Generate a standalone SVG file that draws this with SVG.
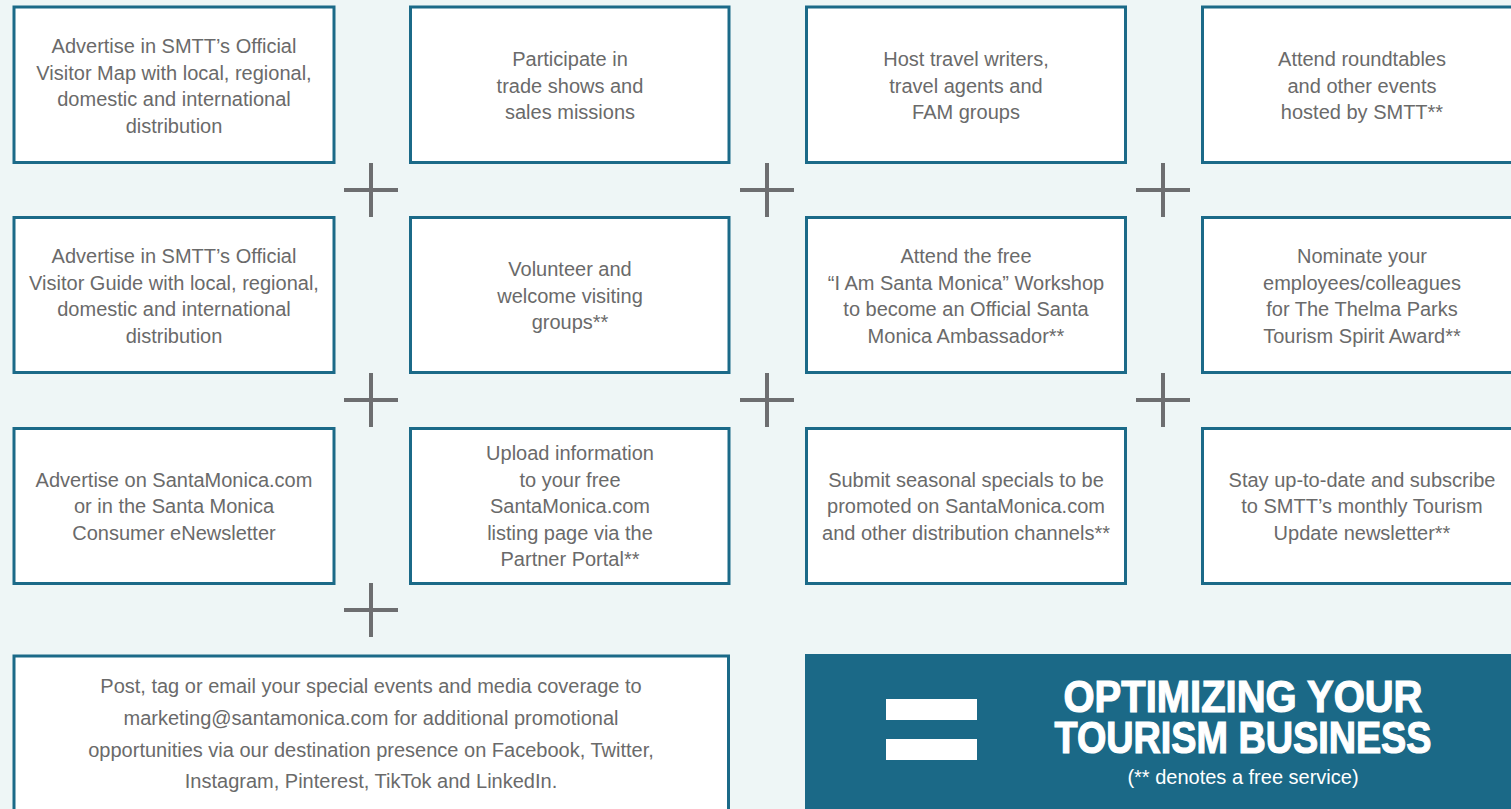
<svg xmlns="http://www.w3.org/2000/svg" width="1511" height="809" viewBox="0 0 1511 809">
<style>
.bx{fill:#ffffff;stroke:#1b6a88;stroke-width:3}
.t{font-family:"Liberation Sans",Arial,sans-serif;font-size:20px;fill:#6a6a6a;text-anchor:middle}
.pl{stroke:#6d6e70;stroke-width:4;fill:none}
.ttl{font-family:"Liberation Sans",Arial,sans-serif;font-weight:bold;font-size:44px;fill:#ffffff;stroke:#ffffff;stroke-width:1.2;text-anchor:middle}
.sub{font-family:"Liberation Sans",Arial,sans-serif;font-size:20px;fill:#ffffff;text-anchor:middle}
</style>
<defs>
<g id="plus"><path class="pl" d="M-27 0H27M0 -27V27"/></g>
</defs>
<rect width="1511" height="809" fill="#eef6f6"/>

<g id="connectors">
<use href="#plus" x="371" y="190"/>
<use href="#plus" x="767" y="190"/>
<use href="#plus" x="1163" y="190"/>
<use href="#plus" x="371" y="400"/>
<use href="#plus" x="767" y="400"/>
<use href="#plus" x="1163" y="400"/>
<use href="#plus" x="371" y="610"/>
</g>

<g id="a1"><rect class="bx" x="14" y="7" width="320" height="155.5"/>
<text class="t"><tspan x="174" y="53">Advertise in SMTT’s Official</tspan><tspan x="174" y="79.5">Visitor Map with local, regional,</tspan><tspan x="174" y="106">domestic and international</tspan><tspan x="174" y="133">distribution</tspan></text></g>
<g id="a2"><rect class="bx" x="410.5" y="7" width="318.5" height="155.5"/>
<text class="t"><tspan x="570" y="66">Participate in</tspan><tspan x="570" y="93">trade shows and</tspan><tspan x="570" y="119">sales missions</tspan></text></g>
<g id="a3"><rect class="bx" x="806.5" y="7" width="319" height="155.5"/>
<text class="t"><tspan x="966" y="66">Host travel writers,</tspan><tspan x="966" y="93">travel agents and</tspan><tspan x="966" y="119">FAM groups</tspan></text></g>
<g id="a4"><rect class="bx" x="1202.5" y="7" width="320" height="155.5"/>
<text class="t"><tspan x="1362" y="66">Attend roundtables</tspan><tspan x="1362" y="93">and other events</tspan><tspan x="1362" y="119">hosted by SMTT**</tspan></text></g>

<g id="b1"><rect class="bx" x="14" y="217.5" width="320" height="155"/>
<text class="t"><tspan x="174" y="263">Advertise in SMTT’s Official</tspan><tspan x="174" y="289.5">Visitor Guide with local, regional,</tspan><tspan x="174" y="316">domestic and international</tspan><tspan x="174" y="343">distribution</tspan></text></g>
<g id="b2"><rect class="bx" x="410.5" y="217.5" width="318.5" height="155"/>
<text class="t"><tspan x="570" y="276">Volunteer and</tspan><tspan x="570" y="303">welcome visiting</tspan><tspan x="570" y="329">groups**</tspan></text></g>
<g id="b3"><rect class="bx" x="806.5" y="217.5" width="319" height="155"/>
<text class="t"><tspan x="966" y="263">Attend the free</tspan><tspan x="966" y="289.5">“I Am Santa Monica” Workshop</tspan><tspan x="966" y="316">to become an Official Santa</tspan><tspan x="966" y="343">Monica Ambassador**</tspan></text></g>
<g id="b4"><rect class="bx" x="1202.5" y="217.5" width="320" height="155"/>
<text class="t"><tspan x="1362" y="263">Nominate your</tspan><tspan x="1362" y="289.5">employees/colleagues</tspan><tspan x="1362" y="316">for The Thelma Parks</tspan><tspan x="1362" y="343">Tourism Spirit Award**</tspan></text></g>

<g id="c1"><rect class="bx" x="14" y="428.5" width="320" height="155"/>
<text class="t"><tspan x="174" y="487">Advertise on SantaMonica.com</tspan><tspan x="174" y="513">or in the Santa Monica</tspan><tspan x="174" y="540">Consumer eNewsletter</tspan></text></g>
<g id="c2"><rect class="bx" x="410.5" y="428.5" width="318.5" height="155"/>
<text class="t"><tspan x="570" y="460">Upload information</tspan><tspan x="570" y="487">to your free</tspan><tspan x="570" y="513">SantaMonica.com</tspan><tspan x="570" y="540">listing page via the</tspan><tspan x="570" y="566">Partner Portal**</tspan></text></g>
<g id="c3"><rect class="bx" x="806.5" y="428.5" width="319" height="155"/>
<text class="t"><tspan x="966" y="487">Submit seasonal specials to be</tspan><tspan x="966" y="513">promoted on SantaMonica.com</tspan><tspan x="966" y="540">and other distribution channels**</tspan></text></g>
<g id="c4"><rect class="bx" x="1202.5" y="428.5" width="320" height="155"/>
<text class="t"><tspan x="1362" y="487">Stay up-to-date and subscribe</tspan><tspan x="1362" y="513">to SMTT’s monthly Tourism</tspan><tspan x="1362" y="540">Update newsletter**</tspan></text></g>

<g id="d1"><rect class="bx" x="14" y="656" width="714.5" height="170"/>
<text class="t"><tspan x="371" y="693">Post, tag or email your special events and media coverage to</tspan><tspan x="371" y="725">marketing@santamonica.com for additional promotional</tspan><tspan x="371" y="757">opportunities via our destination presence on Facebook, Twitter,</tspan><tspan x="371" y="788">Instagram, Pinterest, TikTok and LinkedIn.</tspan></text></g>

<g id="result"><rect x="805" y="654" width="720" height="170" fill="#1b6987"/>
<rect x="886" y="699" width="91" height="21" fill="#ffffff"/>
<rect x="886" y="739" width="91" height="21" fill="#ffffff"/>
<text class="ttl"><tspan x="1243" y="712" textLength="359" lengthAdjust="spacingAndGlyphs">OPTIMIZING YOUR</tspan><tspan x="1243" y="753" textLength="377" lengthAdjust="spacingAndGlyphs">TOURISM BUSINESS</tspan></text>
<text class="sub" x="1243" y="784">(** denotes a free service)</text></g>
</svg>
